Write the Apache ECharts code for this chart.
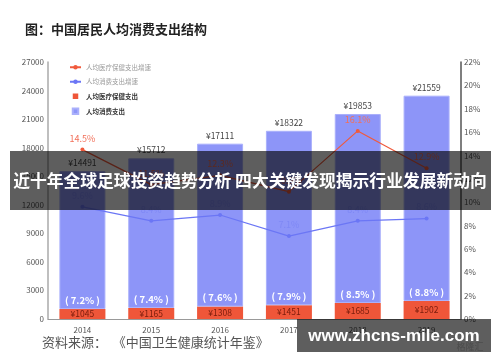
<!DOCTYPE html>
<html>
<head>
<meta charset="utf-8">
<script src="https://cdn.jsdelivr.net/npm/echarts@6/dist/echarts.min.js"></script>
<style>html,body{margin:0;padding:0;background:#fff}#c{width:500px;height:362px}</style>
</head>
<body>
<div id="c"></div>
<script>
var years = ['2014', '2015', '2016', '2017', '2018', '2019'];
var consumption = [14491, 15712, 17111, 18322, 19853, 21559];
var medical = [1045, 1165, 1308, 1451, 1685, 1902];
var medicalShare = ['7.2%', '7.4%', '7.6%', '7.9%', '8.5%', '8.8%'];
var medicalGrowth = [14.5, 11.5, 12.3, 10.9, 16.1, 12.9];
var consumptionGrowth = [9.6, 8.4, 8.9, 7.1, 8.4, 8.6];
var leftTicks = [0, 27000, 3000];
var rightTicks = [0, 22, 2];

var FONT = '"Noto Sans CJK SC", "Liberation Sans", sans-serif';
var RED = '#ef5639', BLUE = '#8d95f8', RLINE = '#f05a3c', BLINE = '#6b76f5';

var chart = echarts.init(document.getElementById('c'), null, {renderer: 'canvas'});
chart.setOption({
  animation: false,
  textStyle: {fontFamily: FONT},
  grid: {left: 48, right: 39, top: 62, bottom: 43},
  legend: {
    orient: 'vertical', left: 64, top: 59, itemGap: 8, itemWidth: 11, itemHeight: 5.5,
    textStyle: {fontSize: 6.5, color: '#555', fontFamily: FONT},
    data: [
      {name: '人均医疗保健支出增速', textStyle: {color: '#999'}},
      {name: '人均消费支出增速', textStyle: {color: '#999'}},
      {name: '人均医疗保健支出', icon: 'path://M0,0h10v10h-10z', textStyle: {color: '#333', fontWeight: 'bold'}},
      {name: '人均消费支出', icon: 'path://M0,0h10v10h-10z', textStyle: {color: '#333', fontWeight: 'bold'}}
    ]
  },
  xAxis: {
    type: 'category', data: years,
    axisLine: {lineStyle: {color: '#999', width: 1}},
    axisTick: {show: false},
    axisLabel: {color: '#555', fontSize: 8, margin: 7}
  },
  yAxis: [
    {
      type: 'value', min: leftTicks[0], max: leftTicks[1], interval: leftTicks[2],
      axisLine: {show: true, lineStyle: {color: '#aaa', width: 1.5}},
      axisTick: {show: false}, splitLine: {show: false},
      axisLabel: {color: '#555', fontSize: 8, margin: 4, formatter: function (v) { return String(v); }}
    },
    {
      type: 'value', min: rightTicks[0], max: rightTicks[1], interval: rightTicks[2],
      position: 'right',
      axisLine: {show: true, lineStyle: {color: '#555', width: 1.5}},
      axisTick: {show: false}, splitLine: {show: false},
      axisLabel: {color: '#555', fontSize: 8, margin: 3, formatter: '{value}%'}
    }
  ],
  series: [
    {
      name: '人均医疗保健支出', type: 'bar', stack: 'a', barWidth: 46, data: medical,
      itemStyle: {color: RED},
      label: {show: true, position: 'inside', color: '#7a1c0c', fontSize: 8.5, formatter: '¥{c}'}
    },
    {
      name: '人均消费支出', type: 'bar', stack: 'a', barWidth: 46, data: consumption,
      itemStyle: {color: BLUE, borderColor: '#aab0fb', borderWidth: 1},
      label: {show: true, position: 'top', color: '#444', fontSize: 8.5, distance: 4, formatter: '¥{c}'}
    },
    {
      name: 'share', type: 'bar', stack: 'b', barWidth: 46, barGap: '-100%', data: medical,
      itemStyle: {color: 'rgba(0,0,0,0)'}, silent: true,
      label: {show: true, position: 'top', color: '#fff', fontSize: 9.5, fontWeight: 'bold', distance: 4,
        formatter: function (p) { return '( ' + medicalShare[p.dataIndex] + ' )'; }}
    },
    {
      name: '人均医疗保健支出增速', type: 'line', yAxisIndex: 1, data: medicalGrowth,
      symbol: 'circle', symbolSize: 4,
      lineStyle: {color: RLINE, width: 1.2}, itemStyle: {color: RLINE},
      label: {show: true, position: 'top', color: '#f2705a', fontSize: 9, distance: 5, formatter: '{c}%'}
    },
    {
      name: '人均消费支出增速', type: 'line', yAxisIndex: 1, data: consumptionGrowth,
      symbol: 'circle', symbolSize: 4,
      lineStyle: {color: BLINE, width: 1.2}, itemStyle: {color: BLINE},
      label: {show: true, position: 'top', color: '#7f88f5', fontSize: 9, distance: 5, formatter: '{c}%'}
    }
  ],
  graphic: [
    {type: 'text', left: 25, top: 23, z: 100,
      style: {text: '图：中国居民人均消费支出结构', font: 'bold 13px ' + FONT, fill: '#222'}},
    {type: 'text', left: 42, top: 336, z: 100,
      style: {text: '资料来源：  《中国卫生健康统计年鉴》', font: '13px ' + FONT, fill: '#555'}},
    {type: 'rect', z: 100, shape: {x: 10, y: 151, width: 481, height: 59},
      style: {fill: 'rgba(0,0,0,0.63)'}},
    {type: 'text', z: 101, x: 250, y: 181,
      style: {text: '近十年全球足球投资趋势分析 四大关键发现揭示行业发展新动向', font: 'bold 16.8px ' + FONT,
        fill: '#fff', textAlign: 'center', textVerticalAlign: 'middle'}},
    {type: 'text', z: 100, x: 470, y: 347,
      style: {text: '格隆汇', font: '9px ' + FONT, fill: '#ccc', textAlign: 'center', textVerticalAlign: 'middle'}},
    {type: 'rect', z: 100, shape: {x: 297, y: 319, width: 194, height: 33},
      style: {fill: 'rgba(0,0,0,0.63)'}},
    {type: 'text', z: 101, x: 394, y: 336,
      style: {text: 'www.zhcns-mile.com', font: 'bold 17px "Liberation Sans", sans-serif',
        fill: '#fff', textAlign: 'center', textVerticalAlign: 'middle'}}
  ]
});
</script>
</body>
</html>
